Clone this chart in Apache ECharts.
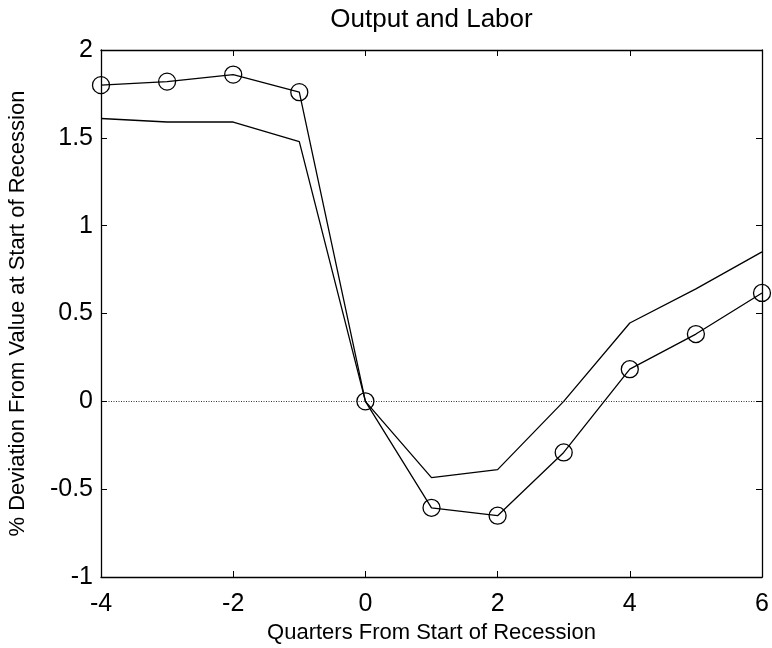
<!DOCTYPE html>
<html>
<head>
<meta charset="utf-8">
<script src="https://cdn.jsdelivr.net/npm/echarts@6/dist/echarts.min.js"></script>
<style>html,body{margin:0;padding:0;background:#fff}#c{width:772px;height:648px}</style>
</head>
<body>
<div id="c"></div>
<script>
var quarters = [-4, -3, -2, -1, 0, 1, 2, 3, 4, 5, 6];
var outputCircles = [1.80, 1.82, 1.86, 1.76, 0, -0.606, -0.651, -0.291, 0.183, 0.383, 0.617];
var laborLine = [1.61, 1.59, 1.59, 1.478, 0, -0.434, -0.389, 0.0, 0.446, 0.64, 0.851];
var xTicks = [-4, -2, 0, 2, 4, 6];
var yTicks = [-1, -0.5, 0, 0.5, 1, 1.5, 2];

function pairs(xs, ys) { return xs.map(function (x, i) { return [x, ys[i]]; }); }

var font = 'Liberation Sans, Arial, Helvetica, sans-serif';
var chart = echarts.init(document.getElementById('c'), null, {renderer: 'canvas'});
var tickStyle = {show: true, inside: true, length: 6, lineStyle: {color: '#000', width: 1}};
chart.setOption({
  animation: false,
  backgroundColor: '#fff',
  grid: {left: 101, right: 10, top: 50, bottom: 71, containLabel: false, outerBoundsMode: 'none'},
  xAxis: [{
    type: 'value', min: -4, max: 6, interval: 2, position: 'bottom',
    axisLine: {show: true, onZero: false, lineStyle: {color: '#000', width: 1.3}},
    axisTick: tickStyle,
    axisLabel: {color: '#000', fontSize: 25, fontFamily: font, margin: 15,
      formatter: function (v) { return xTicks.indexOf(v) >= 0 ? String(v) : ''; }},
    splitLine: {show: false},
    name: 'Quarters From Start of Recession', nameLocation: 'middle', nameGap: 43,
    nameTextStyle: {color: '#000', fontSize: 22, fontFamily: font}
  }, {
    type: 'value', min: -4, max: 6, interval: 2, position: 'top',
    axisLine: {show: true, onZero: false, lineStyle: {color: '#000', width: 1.3}},
    axisTick: tickStyle, axisLabel: {show: false}, splitLine: {show: false},
    name: 'Output and Labor', nameLocation: 'middle', nameGap: 17,
    nameTextStyle: {color: '#000', fontSize: 26, fontFamily: font}
  }],
  yAxis: [{
    type: 'value', min: -1, max: 2, interval: 0.5, position: 'left',
    axisLine: {show: true, onZero: false, lineStyle: {color: '#000', width: 1.3}},
    axisTick: tickStyle,
    axisLabel: {color: '#000', fontSize: 25, fontFamily: font, margin: 8,
      formatter: function (v) { return yTicks.indexOf(v) >= 0 ? String(v) : ''; }},
    splitLine: {show: false},
    name: '% Deviation From Value at Start of Recession', nameLocation: 'middle', nameGap: 72,
    nameTextStyle: {color: '#000', fontSize: 22, fontFamily: font}
  }, {
    type: 'value', min: -1, max: 2, interval: 0.5, position: 'right',
    axisLine: {show: true, onZero: false, lineStyle: {color: '#000', width: 1.3}},
    axisTick: tickStyle, axisLabel: {show: false}, splitLine: {show: false}
  }],
  series: [{
    type: 'line', name: 'Labor', data: pairs(quarters, laborLine),
    showSymbol: false, symbol: 'none',
    lineStyle: {color: '#000', width: 1.3},
    markLine: {
      silent: true, symbol: ['none', 'none'], label: {show: false},
      lineStyle: {color: '#000', width: 0.8, type: [1, 1.5]},
      data: [{yAxis: 0}]
    },
    z: 2
  }, {
    type: 'line', name: 'Output', data: pairs(quarters, outputCircles),
    symbol: 'circle', symbolSize: 17, showAllSymbol: true,
    itemStyle: {color: 'rgba(0,0,0,0)', borderColor: '#000', borderWidth: 1.3},
    lineStyle: {color: '#000', width: 1.3},
    z: 3
  }]
});
</script>
</body>
</html>
